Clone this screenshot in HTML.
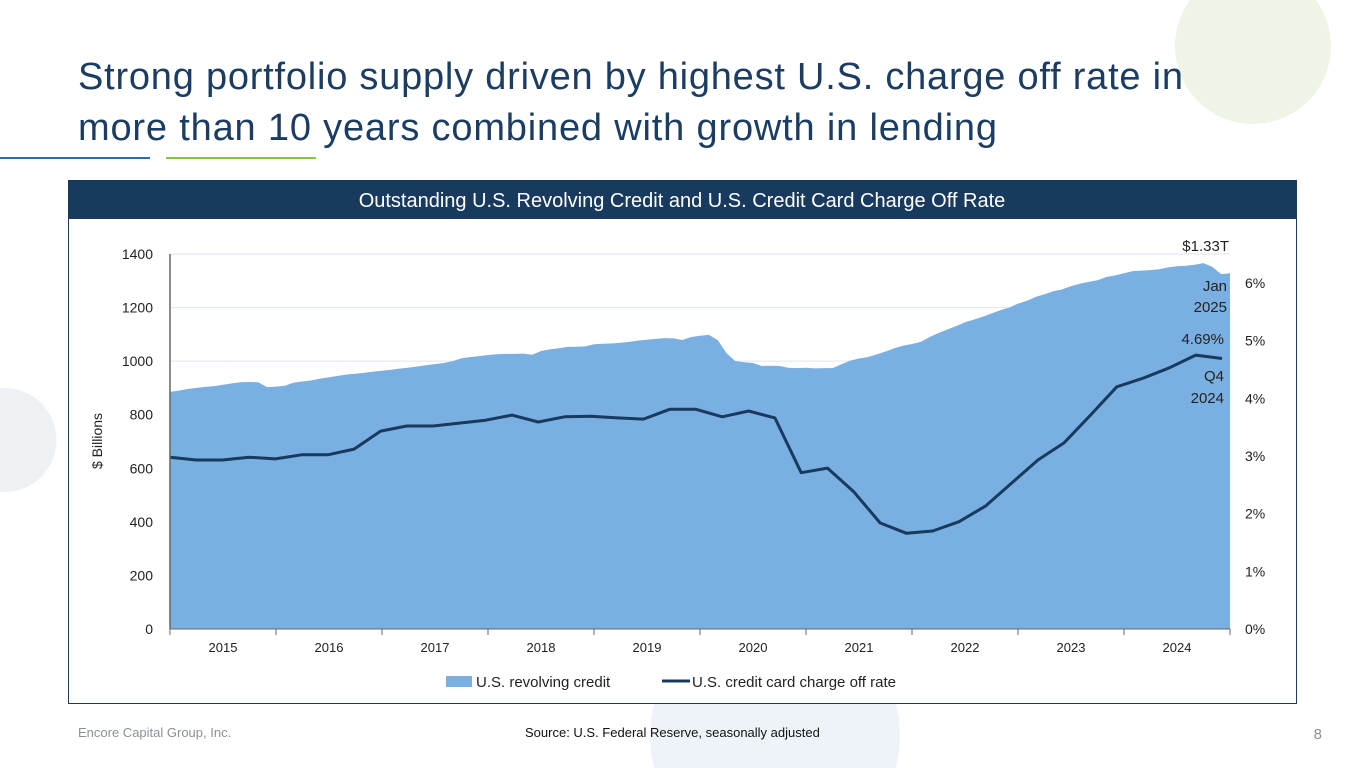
<!DOCTYPE html>
<html><head><meta charset="utf-8"><style>
html,body{margin:0;padding:0;background:#fff;width:1365px;height:768px;overflow:hidden;}
body{position:relative;font-family:"Liberation Sans",Arial,sans-serif;}
svg{position:absolute;left:0;top:0;overflow:hidden;display:block;}
</style></head><body>
<svg id="page" width="1365" height="768" viewBox="0 0 1365 768" font-family="Liberation Sans, Arial, sans-serif">
  <path d="M1190,0 A78,78 0 1,0 1316,0 Z" fill="#eef5e7"/>
  <path d="M0,388.2 A52,52 0 1,1 0,491.8 Z" fill="#eef1f4"/>
  <path d="M654.4,768 A125,125 0 1,1 895.6,768 Z" fill="#eef3f9"/>

  <text x="78" y="89" font-size="38" fill="#1b3d63" textLength="1105" lengthAdjust="spacing">Strong portfolio supply driven by highest U.S. charge off rate in</text>
  <text x="78" y="140" font-size="38" fill="#1b3d63" textLength="919" lengthAdjust="spacing">more than 10 years combined with growth in lending</text>
  <rect x="0" y="157" width="150" height="2" fill="#2a6ea8"/>
  <rect x="166" y="157" width="150" height="2" fill="#8bc34a"/>

  <rect x="68.5" y="180.5" width="1228" height="523" fill="#fff" stroke="#1a3b5c" stroke-width="1"/>
  <rect x="68" y="180" width="1229" height="39" fill="#173a5e"/>
  <text x="682" y="207" font-size="20" fill="#fff" text-anchor="middle">Outstanding U.S. Revolving Credit and U.S. Credit Card Charge Off Rate</text>

  <g id="chart"></g>

  <text x="78" y="737" font-size="13" fill="#8a9099">Encore Capital Group, Inc.</text>
  <text x="525" y="737" font-size="13" fill="#111">Source: U.S. Federal Reserve, seasonally adjusted</text>
  <text x="1322" y="739" font-size="15" fill="#8a9099" text-anchor="end">8</text>
</svg>
<script>
// Monthly revolving credit ($B), Jan 2015 - Jan 2025
const revolvingCredit = [885,890,896,900,904,907,912,917,921,922,921,903,905,908,920,924,928,935,940,945,950,953,957,961,964,968,972,976,980,985,989,993,1000,1011,1015,1019,1023,1026,1027,1027,1028,1024,1038,1044,1048,1053,1054,1055,1063,1065,1066,1069,1072,1077,1080,1083,1086,1085,1079,1090,1095,1098,1079,1030,1000,996,993,982,983,982,975,974,975,973,974,974,988,1002,1010,1015,1025,1036,1048,1058,1064,1072,1090,1105,1118,1131,1145,1155,1166,1178,1190,1200,1215,1225,1240,1250,1261,1268,1280,1289,1296,1302,1314,1320,1328,1336,1338,1340,1343,1350,1354,1356,1360,1366,1352,1325,1328];
// Quarterly credit card charge-off rate (%)
const chargeOffRate = [2.98,2.93,2.93,2.98,2.95,3.02,3.02,3.12,3.43,3.52,3.52,3.57,3.62,3.71,3.59,3.68,3.69,3.66,3.64,3.81,3.81,3.68,3.78,3.66,2.71,2.79,2.38,1.84,1.66,1.70,1.86,2.13,2.53,2.93,3.23,3.71,4.20,4.35,4.53,4.75,4.69];
const yearLabels = ["2015","2016","2017","2018","2019","2020","2021","2022","2023","2024"];
const leftTicks = [0,200,400,600,800,1000,1200,1400];
const rightTicks = [0,1,2,3,4,5,6];

const NS="http://www.w3.org/2000/svg";
const g=document.getElementById('chart');
const X0=170,X1=1230,Y0=629;
const yL=v=>Y0-v*(375/1400);
const yR=v=>Y0-v*(346/6);
const xMonth=i=>X0+i*(X1-X0)/(revolvingCredit.length-1);
const xQ=i=>X0+i*(1222-X0)/(chargeOffRate.length-1);
const xYear=i=>X0+(i+0.5)*(X1-X0)/yearLabels.length;
function el(t,a){const e=document.createElementNS(NS,t);for(const k in a)e.setAttribute(k,a[k]);g.appendChild(e);return e;}

leftTicks.forEach(v=>{
  if(v>0){const l=el('line',{x1:X0,x2:X1,y1:yL(v),y2:yL(v),stroke:'#dde6ef','stroke-width':1});
  
  }
  const t=el('text',{x:153,y:yL(v)+5,'font-size':14,fill:'#222','text-anchor':'end'});t.textContent=v;
  
  
});
rightTicks.forEach(v=>{
  const t=el('text',{x:1245,y:yR(v)+5,'font-size':14,fill:'#222'});t.textContent=v+'%';
  
  
});

let d='M'+X0+','+Y0;
revolvingCredit.forEach((v,i)=>{d+=' L'+xMonth(i).toFixed(1)+','+yL(v).toFixed(1);});
d+=' L'+xMonth(revolvingCredit.length-1)+','+Y0+' Z';
const area=el('path',{d:d,fill:'#7aafe2'});



const pts=chargeOffRate.map((v,i)=>xQ(i).toFixed(1)+','+yR(v).toFixed(1)).join(' ');
const line=el('polyline',{points:pts,fill:'none',stroke:'#173a5e','stroke-width':3,'stroke-linejoin':'round'});



const ax=el('line',{x1:X0,x2:X1,y1:Y0,y2:Y0,stroke:'#666','stroke-width':1});


const ay=el('line',{x1:X0,x2:X0,y1:254,y2:Y0,stroke:'#666','stroke-width':1.5});


for(let i=0;i<=yearLabels.length;i++){
  const x=X0+i*(X1-X0)/yearLabels.length;
  const tk=el('line',{x1:x,x2:x,y1:Y0,y2:Y0+6,stroke:'#666'});
  
  
}
yearLabels.forEach((y,i)=>{
  const t=el('text',{x:xYear(i),y:652,'font-size':13,fill:'#222','text-anchor':'middle'});t.textContent=y;
  
  
});
const yt=el('text',{x:0,y:0,'font-size':14,fill:'#222','text-anchor':'middle',transform:'translate(102,441) rotate(-90)'});yt.textContent='$ Billions';



const ann=[['$1.33T',1229,251,'annotation-credit-value'],['Jan',1227,291,'annotation-credit-month'],['2025',1227,312,'annotation-credit-year'],['4.69%',1224,344,'annotation-rate-value'],['Q4',1224,381,'annotation-rate-quarter'],['2024',1224,403,'annotation-rate-year']];
ann.forEach(a=>{const t=el('text',{x:a[1],y:a[2],'font-size':15,fill:'#222','text-anchor':'end'});t.textContent=a[0];
  
  });

const sw=el('rect',{x:446,y:676,width:26,height:11,fill:'#7aafe2'});


const l1=el('text',{x:476,y:687,'font-size':15,fill:'#222'});l1.textContent='U.S. revolving credit';


const sl=el('line',{x1:662,x2:690,y1:681,y2:681,stroke:'#173a5e','stroke-width':3});


const l2=el('text',{x:692,y:687,'font-size':15,fill:'#222'});l2.textContent='U.S. credit card charge off rate';


</script>
</body></html>
